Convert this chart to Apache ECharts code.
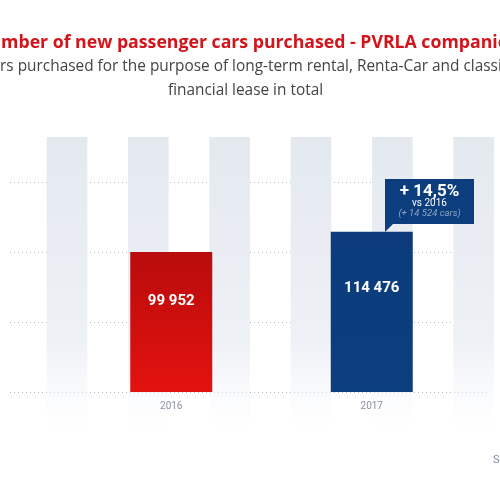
<!DOCTYPE html>
<html>
<head>
<meta charset="utf-8">
<script src="https://cdn.jsdelivr.net/npm/echarts@6/dist/echarts.min.js"></script>
<style>html,body{margin:0;padding:0;background:#fff}#c{width:500px;height:500px}</style>
</head>
<body>
<div id="c"></div>
<script>
const years = ['2016', '2017'];
const carsPurchased = [99952, 114476];
const yTicks = [0, 50000, 100000, 150000];
const stripeSlots = ['', '', '', '', '', '', '', '', '', '', '', ''];
const titleText = 'Number of new passenger cars purchased - PVRLA companies';
const subtitleLines = ['Cars purchased for the purpose of long-term rental, Renta-Car and classic', 'financial lease in total'];
const sourceText = 'Source: PVRLA';

function fmt(n) { return String(n).replace(/\B(?=(\d{3})+(?!\d))/g, ' '); }
const diff = carsPurchased[1] - carsPurchased[0];
const pct = (diff / carsPurchased[0] * 100).toFixed(1).replace('.', ',');

const chart = echarts.init(document.getElementById('c'), null, { renderer: 'canvas' });
const G = echarts.graphic.LinearGradient;
const stripeFill = new G(0, 0, 0, 1, [
  { offset: 0, color: '#e4e9f0' },
  { offset: 0.7, color: '#eef1f6' },
  { offset: 1, color: 'rgba(245,247,250,0)' }
]);
const barColors = [
  new G(0, 0, 0, 1, [{ offset: 0, color: '#b90c0c' }, { offset: 1, color: '#e3120f' }]),
  new G(0, 0, 0, 1, [{ offset: 0, color: '#0b3b7a' }, { offset: 1, color: '#0c3f80' }])
];

const txt = (x, y, text, font, fill) => ({
  type: 'text', x, y, z: 100,
  style: { text, font, fill, textAlign: 'center', textVerticalAlign: 'middle' }
});

const option = {
  backgroundColor: '#fff',
  animation: false,
  grid: [
    { left: 6, right: 6, top: 137, bottom: 70 },
    { left: 10, right: 12, top: 182, bottom: 108 },
    { left: 71, right: 28, top: 182, bottom: 108 }
  ],
  xAxis: [
    { gridIndex: 0, type: 'category', data: stripeSlots, axisLine: { show: false }, axisTick: { show: false }, axisLabel: { show: false },
      splitArea: { show: true, interval: 0, areaStyle: { color: ['rgba(0,0,0,0)', stripeFill] } } },
    { gridIndex: 1, type: 'category', data: years, show: false },
    { gridIndex: 2, type: 'category', data: years, axisLine: { show: false }, axisTick: { show: false },
      axisLabel: { color: '#8a93a3', fontSize: 10, fontFamily: 'Roboto', margin: 9 } }
  ],
  yAxis: [
    { gridIndex: 0, type: 'value', show: false, min: 0, max: 1 },
    { gridIndex: 1, type: 'value', min: yTicks[0], max: yTicks[yTicks.length - 1], interval: yTicks[1] - yTicks[0],
      axisLine: { show: false }, axisTick: { show: false }, axisLabel: { show: false },
      splitLine: { show: true, lineStyle: { color: '#b3bac6', width: 1, type: [1, 3] } } },
    { gridIndex: 2, type: 'value', min: yTicks[0], max: yTicks[yTicks.length - 1], show: false, splitLine: { show: false } }
  ],
  series: [
    {
      type: 'bar', xAxisIndex: 2, yAxisIndex: 2, barWidth: 82,
      data: carsPurchased.map((v, i) => ({ value: v, itemStyle: { color: barColors[i] } })),
      label: {
        show: true, position: ['50%', '35%'], align: 'center', verticalAlign: 'middle',
        color: '#fff', fontFamily: 'Roboto', fontWeight: 'bold', fontSize: 15,
        formatter: p => fmt(p.value)
      }
    }
  ],
  graphic: [
    txt(246, 43, titleText, 'bold 17.7px "Open Sans"', '#d3141b'),
    txt(245.5, 67, subtitleLines[0], '15.4px "Open Sans"', '#444'),
    txt(245.5, 90.5, subtitleLines[1], '15.4px "Open Sans"', '#444'),
    { type: 'rect', z: 100, shape: { x: 385, y: 179, width: 89, height: 45 }, style: { fill: '#0c3d7d' } },
    { type: 'polygon', z: 100, shape: { points: [[385, 223], [385, 232], [394, 223]] }, style: { fill: '#0c3d7d' } },
    txt(429.5, 191.5, '+ ' + pct + '%', 'bold 17px Roboto', '#fff'),
    txt(429.5, 203, 'vs ' + years[0], '10px Roboto', '#fff'),
    txt(429.5, 213.5, '(+ ' + fmt(diff) + ' cars)', 'italic 9.5px Roboto', '#8ea4c4'),
    { type: 'text', x: 493, y: 460, z: 100, style: { text: sourceText, fill: '#7d8ba0', font: '11px Roboto', textAlign: 'left', textVerticalAlign: 'middle' } }
  ]
};
chart.setOption(option);
</script>
</body>
</html>
